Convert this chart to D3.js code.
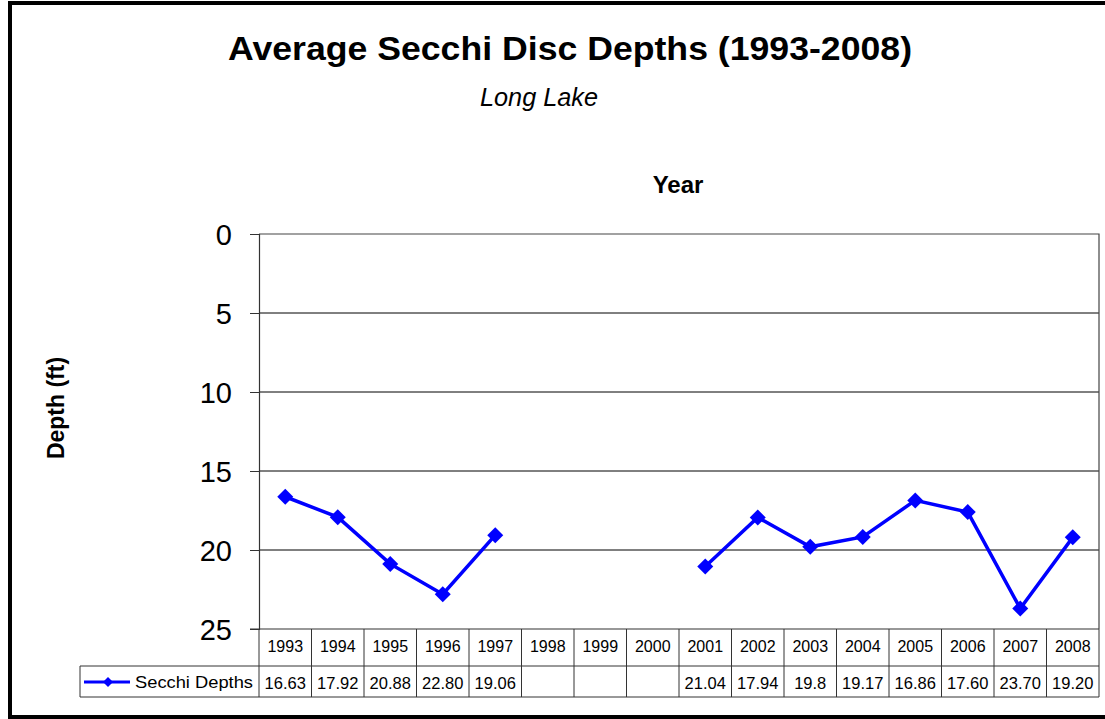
<!DOCTYPE html>
<html><head><meta charset="utf-8">
<script src="https://cdn.jsdelivr.net/npm/d3@7"></script>
<style>body{margin:0;background:#fff}svg{display:block}</style>
</head><body>
<svg id="c" width="1105" height="719"></svg>
<script>
const years = ["1993","1994","1995","1996","1997","1998","1999","2000","2001","2002","2003","2004","2005","2006","2007","2008"];
const depths = [16.63,17.92,20.88,22.80,19.06,null,null,null,21.04,17.94,19.8,19.17,16.86,17.60,23.70,19.20];
const depthLabels = ["16.63","17.92","20.88","22.80","19.06","","","","21.04","17.94","19.8","19.17","16.86","17.60","23.70","19.20"];
const yTicks = [0,5,10,15,20,25];
const seriesName = "Secchi Depths";

const svg = d3.select("#c");
const font = "Liberation Sans, Arial, sans-serif";
const L = 259, R = 1099, T = 234, B = 629;
const row1 = 666, row2 = 697;

svg.append("rect").attr("x",10).attr("y",3).attr("width",1105).attr("height",714)
  .attr("fill","#fff").attr("stroke","#000").attr("stroke-width",4);

const x = d3.scaleBand().domain(years).range([L,R]);
const y = d3.scaleLinear().domain([0,25]).range([T,B]);

// gridlines
svg.append("g").selectAll("line").data(yTicks.filter(d=>d>0&&d<25)).join("line")
  .attr("x1",L).attr("x2",R).attr("y1",d=>y(d)).attr("y2",d=>y(d))
  .attr("stroke","#000").attr("stroke-width",1);

// plot border top/right
svg.append("path").attr("d",`M${L},${T}H${R}V${B}`).attr("fill","none").attr("stroke","#444").attr("stroke-width",1.2);

// y axis
const ya = svg.append("g").attr("transform",`translate(${L},0)`)
  .call(d3.axisLeft(y).tickValues(yTicks).tickSize(9).tickPadding(18));
ya.select(".domain").attr("stroke","#333").attr("stroke-width",1.2);
ya.selectAll(".tick line").attr("stroke","#333");
ya.selectAll("text").attr("font-family",font).attr("font-size",29).attr("fill","#000").attr("dy","0.36em");

// table
const tg = svg.append("g");
tg.append("line").attr("x1",L-9).attr("x2",R).attr("y1",B).attr("y2",B).attr("stroke","#333").attr("stroke-width",1.2);
tg.append("line").attr("x1",80).attr("x2",R).attr("y1",row1).attr("y2",row1).attr("stroke","#333");
tg.append("line").attr("x1",80).attr("x2",R).attr("y1",row2).attr("y2",row2).attr("stroke","#333");
tg.append("line").attr("x1",80).attr("x2",80).attr("y1",row1).attr("y2",row2).attr("stroke","#333");
const bounds = years.map(d=>x(d)).concat([R]);
tg.selectAll("line.v").data(bounds).join("line").attr("class","v")
  .attr("x1",d=>d).attr("x2",d=>d).attr("y1",B).attr("y2",row2).attr("stroke","#333");
tg.selectAll("text.yr").data(years).join("text").attr("class","yr")
  .attr("x",d=>x(d)+x.bandwidth()/2).attr("y",652)
  .attr("text-anchor","middle").attr("font-family",font).attr("font-size",16).text(d=>d);
tg.selectAll("text.val").data(depthLabels).join("text").attr("class","val")
  .attr("x",(d,i)=>x(years[i])+x.bandwidth()/2).attr("y",689)
  .attr("text-anchor","middle").attr("font-family",font).attr("font-size",16.5).text(d=>d);

// legend in table
const ly = 682;
tg.append("line").attr("x1",84).attr("x2",130).attr("y1",ly).attr("y2",ly).attr("stroke","#0000ff").attr("stroke-width",3);
tg.append("path").attr("transform",`translate(108,${ly})`).attr("d","M0,-5L5,0L0,5L-5,0Z").attr("fill","#0000ff");
tg.append("text").attr("x",135).attr("y",ly+6).attr("font-family",font).attr("font-size",17)
  .attr("textLength",118).attr("lengthAdjust","spacingAndGlyphs").text(seriesName);

// line
const pts = years.map((d,i)=>({yr:d,v:depths[i]}));
const line = d3.line().defined(d=>d.v!==null).x(d=>x(d.yr)+x.bandwidth()/2).y(d=>y(d.v));
svg.append("path").datum(pts).attr("d",line).attr("fill","none").attr("stroke","#0000ff").attr("stroke-width",3.5);
svg.append("g").selectAll("path").data(pts.filter(d=>d.v!==null)).join("path")
  .attr("transform",d=>`translate(${x(d.yr)+x.bandwidth()/2},${y(d.v)})`)
  .attr("d","M0,-8L8,0L0,8L-8,0Z").attr("fill","#0000ff");

// titles
svg.append("text").attr("x",570).attr("y",60).attr("text-anchor","middle")
  .attr("font-family",font).attr("font-weight","bold").attr("font-size",34)
  .attr("textLength",684).attr("lengthAdjust","spacingAndGlyphs")
  .text("Average Secchi Disc Depths (1993-2008)");
svg.append("text").attr("x",539).attr("y",106).attr("text-anchor","middle")
  .attr("font-family",font).attr("font-style","italic").attr("font-size",25)
  .attr("textLength",118).attr("lengthAdjust","spacingAndGlyphs")
  .text("Long Lake");
svg.append("text").attr("x",678).attr("y",193).attr("text-anchor","middle")
  .attr("font-family",font).attr("font-weight","bold").attr("font-size",24)
  .text("Year");
svg.append("text").attr("transform","translate(64,408) rotate(-90)").attr("text-anchor","middle")
  .attr("font-family",font).attr("font-weight","bold").attr("font-size",23)
  .text("Depth (ft)");
</script>
</body></html>
